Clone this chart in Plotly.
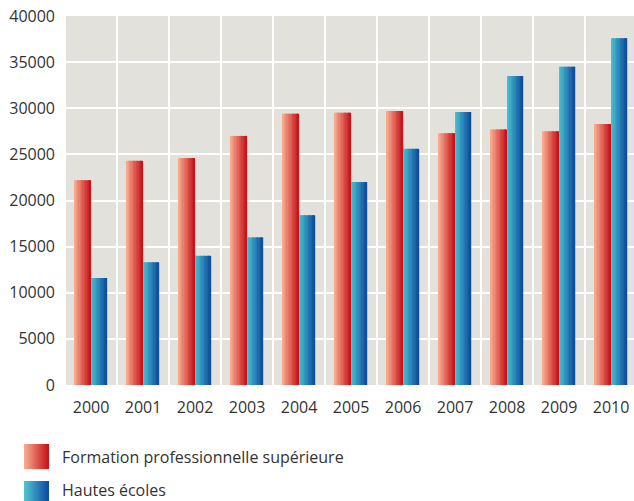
import numpy as np
import plotly.graph_objects as go

# Data
years = ["2000", "2001", "2002", "2003", "2004", "2005",
         "2006", "2007", "2008", "2009", "2010"]
formation_pro = [22200, 24300, 24600, 27000, 29400, 29500,
                 29700, 27300, 27700, 27500, 28300]
hautes_ecoles = [11600, 13300, 14000, 16000, 18400, 22000,
                 25600, 29600, 33500, 34500, 37600]
series_names = ["Formation professionnelle supérieure", "Hautes écoles"]
y_ticks = [0, 5000, 10000, 15000, 20000, 25000, 30000, 35000, 40000]

# gradient endpoints (left -> right) per series
grad_red = ((245, 168, 140), (200, 20, 26))
grad_blue = ((75, 192, 208), (15, 78, 160))

BAR_W = 0.31
N_SLICES = 12
BG = "#e2e1dc"
TXT = "#333333"
FONT = "Open Sans"


def mix(c0, c1, t):
    r, g, b = (int(round(a + (b - a) * t)) for a, b in zip(c0, c1))
    return f"rgb({r},{g},{b})"


fig = go.Figure()

# bars drawn as thin vertical slices to fake a horizontal gradient
for values, grad, start in [(formation_pro, grad_red, -BAR_W),
                            (hautes_ecoles, grad_blue, 0.0)]:
    sw = BAR_W / N_SLICES
    for s in range(N_SLICES):
        t = s / (N_SLICES - 1)
        fig.add_trace(go.Bar(
            x=years, y=values,
            offset=start + s * sw,
            width=sw * 1.25 if s < N_SLICES - 1 else sw,
            marker=dict(color=mix(grad[0], grad[1], t), line=dict(width=0)),
            showlegend=False, hoverinfo="skip",
        ))

# legend swatches (paper coords, below plot)
def px_x(px):
    return (px - 64) / 570


def px_y(py):
    return (385 - py) / 369


shapes = []
for grad, y0, y1 in [(grad_red, 444, 469), (grad_blue, 481, 506)]:
    n = 12
    for s in range(n):
        x0 = 24 + 25 * s / n
        x1 = 24 + 25 * (s + 1) / n + (0.6 if s < n - 1 else 0)
        shapes.append(dict(
            type="rect", xref="paper", yref="paper",
            x0=px_x(x0), x1=px_x(x1), y0=px_y(y1), y1=px_y(y0),
            fillcolor=mix(grad[0], grad[1], s / (n - 1)),
            line=dict(width=0), layer="above",
        ))

annotations = []
for name, py in zip(series_names, [457, 490]):
    annotations.append(dict(
        text=name, xref="paper", yref="paper",
        x=px_x(60), y=px_y(py), xanchor="left", yanchor="middle",
        showarrow=False, font=dict(family=FONT, size=16, color=TXT),
    ))

fig.update_layout(
    width=634, height=501,
    margin=dict(l=64, r=0, t=16, b=116, autoexpand=False),
    paper_bgcolor="white",
    plot_bgcolor=BG,
    barmode="overlay",
    font=dict(family=FONT, size=16, color=TXT),
    shapes=shapes,
    annotations=annotations,
    xaxis=dict(
        type="category",
        range=[-0.52, 10.44],
        tickson="boundaries",
        showgrid=True, gridcolor="white", gridwidth=2,
        ticks="", ticklabelstandoff=11,
        zeroline=False, showline=False, automargin=False,
    ),
    yaxis=dict(
        range=[0, 40000],
        tickvals=y_ticks,
        ticktext=[str(v) for v in y_ticks],
        showgrid=True, gridcolor="white", gridwidth=2,
        zeroline=False, showline=False, automargin=False,
        ticks="", ticklabelstandoff=8,
    ),
)

# remove the default page margin so the figure sits at the window origin
fig.write_html("out.html", config={"displayModeBar": False},
               post_script="document.body.style.margin='0';")
